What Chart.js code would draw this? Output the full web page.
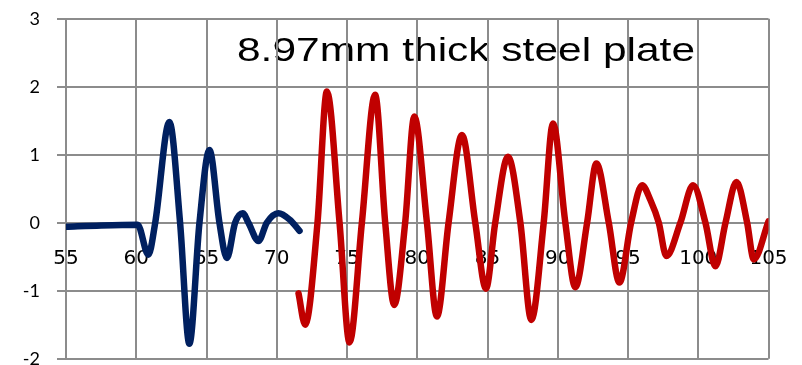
<!DOCTYPE html>
<html><head><meta charset="utf-8">
<script src="https://cdn.jsdelivr.net/npm/chart.js@4/dist/chart.umd.min.js"></script>
<style>html,body{margin:0;padding:0;background:#fff;overflow:hidden}#wrap{width:802px;height:380px}</style>
</head><body><div id="wrap"><canvas id="c" width="802" height="380"></canvas></div>
<script>
const titleText = '8.97mm thick steel plate';
const xMin = 55, xMax = 105, xStep = 5;
const yMin = -2, yMax = 3, yStep = 1;

const blueX = [55, 57.5, 60.1, 60.86, 61.35, 62.36, 63.12, 63.78, 64.5, 65.21, 65.92, 66.45, 67.04, 67.58, 67.98, 68.70, 69.29, 70.12, 70.95, 71.62];
const blueY = [-0.06, -0.04, -0.03, -0.47, 0, 1.48, 0, -1.78, 0, 1.07, 0, -0.52, 0, 0.14, 0, -0.27, 0, 0.14, 0.04, -0.12];

const redX = [71.55, 72.02, 72.9, 73.57, 74.47, 75.18, 76.06, 77.0, 77.72, 78.36, 79.14, 79.79, 80.69, 81.40, 82.23, 83.18, 84.13, 84.89, 85.55, 86.46, 87.34, 88.12, 89.0, 89.66, 90.54, 91.25, 92.09, 92.75, 93.63, 94.39, 95.22, 96.0, 96.6, 97.19, 97.73, 98.73, 99.63, 100.51, 101.22, 101.94, 102.72, 103.48, 103.95, 105.0];
const redY = [-1.04, -1.50, 0, 1.93, 0, -1.76, 0, 1.88, 0, -1.21, 0, 1.56, 0, -1.38, 0, 1.29, 0, -0.97, 0, 0.97, 0, -1.43, 0, 1.46, 0, -0.95, 0, 0.87, 0, -0.88, 0, 0.55, 0.33, 0, -0.49, 0, 0.55, 0, -0.64, 0, 0.60, 0, -0.54, 0.02];

const toPts = (xs, ys) => xs.map((x, i) => ({x, y: ys[i]}));
const gridColor = '#8c8c8c';

const titlePlugin = {
  id: 'inTitle',
  beforeDraw(chart) {
    const ctx = chart.ctx;
    ctx.save();
    ctx.font = '33.5px "Liberation Sans", Arial, sans-serif';
    ctx.fillStyle = '#000';
    ctx.textAlign = 'center';
    ctx.textBaseline = 'alphabetic';
    ctx.translate(466, 60.7);
    ctx.scale(1.268, 1);
    ctx.fillText(titleText, 0, 0);
    ctx.restore();
  }
};

new Chart(document.getElementById('c'), {
  type: 'line',
  data: {
    datasets: [
      {data: toPts(blueX, blueY), borderColor: '#002060', borderWidth: 6.5, pointRadius: 0, cubicInterpolationMode: 'monotone', fill: false, borderCapStyle: 'round', borderJoinStyle: 'round'},
      {data: toPts(redX, redY), borderColor: '#C00000', borderWidth: 6.5, pointRadius: 0, cubicInterpolationMode: 'monotone', fill: false, borderCapStyle: 'round', borderJoinStyle: 'round'}
    ]
  },
  options: {
    responsive: false,
    animation: false,
    devicePixelRatio: 1,
    layout: {padding: {top: 18.7, right: 33.5, bottom: 21.3, left: 0}},
    plugins: {legend: {display: false}, tooltip: {enabled: false}, title: {display: false}},
    scales: {
      x: {
        type: 'linear', min: xMin, max: xMax,
        position: {y: 0},
        afterFit(scale) { scale.paddingLeft = 0; scale.paddingRight = 0; scale.paddingTop = 0; scale.paddingBottom = 0; scale.height = 0; },
        ticks: {stepSize: xStep, padding: 24, color: '#000', font: {family: '"DejaVu Sans"', size: 20}, maxRotation: 0, autoSkip: false},
        grid: {color: gridColor, lineWidth: 2, drawTicks: false},
        border: {color: gridColor, width: 2}
      },
      y: {
        type: 'linear', min: yMin, max: yMax,
        afterFit(scale) { scale.width = 66; scale.paddingTop = 0; scale.paddingBottom = 0; scale.paddingLeft = 0; scale.paddingRight = 0; },
        ticks: {stepSize: yStep, padding: 17, color: '#000', font: {family: 'Lato', size: 18}},
        grid: {color: gridColor, lineWidth: 2, tickLength: 9},
        border: {color: gridColor, width: 2}
      }
    }
  },
  plugins: [titlePlugin]
});
</script>
</body></html>
